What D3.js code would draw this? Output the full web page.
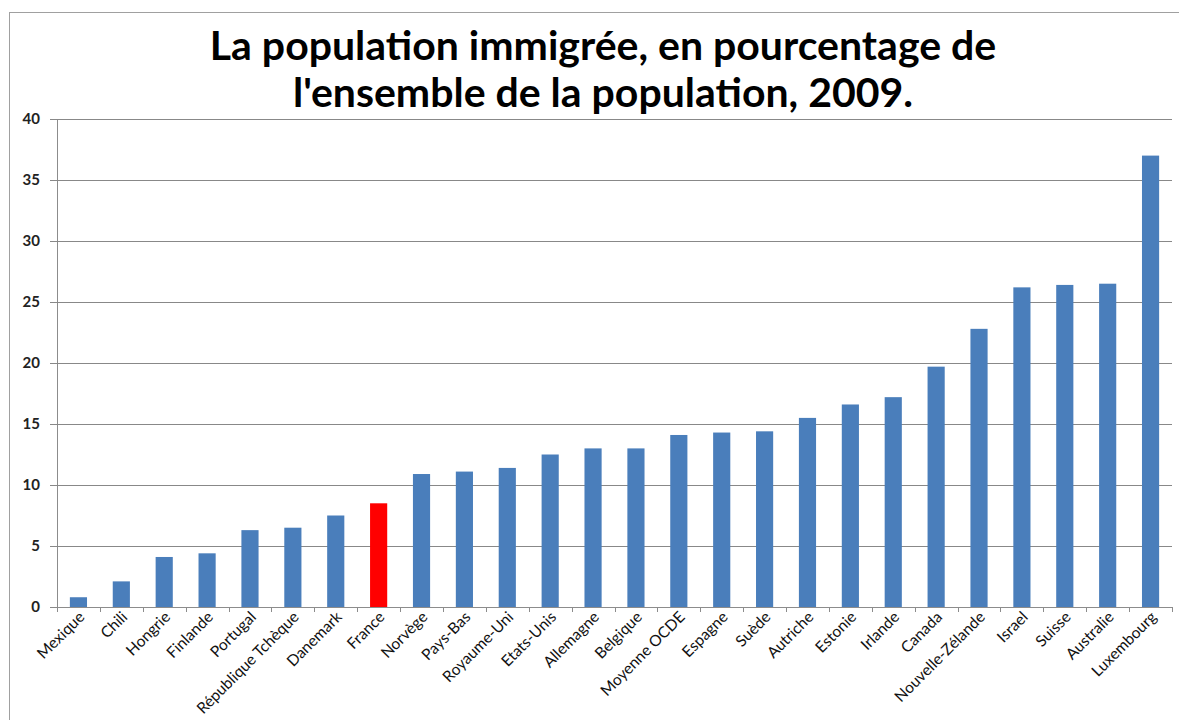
<!doctype html>
<html>
<head>
<meta charset="UTF-8">
<title>La population immigrée, 2009</title>
<script src="https://d3js.org/d3.v7.min.js"></script>
<style>
  body { margin: 0; background: #fff; }
  svg { display: block; }
  .title { font-family: Lato, "Open Sans", sans-serif; font-weight: bold; font-size: 41px; fill: #000; }
  .ylab { font-family: Lato, "Open Sans", sans-serif; font-size: 15px; font-weight: bold; fill: #222; }
  .xlab { font-family: Lato, "Open Sans", sans-serif; font-size: 15.5px; fill: #111; }
</style>
</head>
<body>
<svg id="chart" width="1179" height="720"></svg>
<script>
// categories, in drawing order
var countries = ["Mexique", "Chili", "Hongrie", "Finlande", "Portugal", "République Tchèque",
  "Danemark", "France", "Norvège", "Pays-Bas", "Royaume-Uni", "Etats-Unis", "Allemagne",
  "Belgique", "Moyenne OCDE", "Espagne", "Suède", "Autriche", "Estonie", "Irlande", "Canada",
  "Nouvelle-Zélande", "Israel", "Suisse", "Australie", "Luxembourg"];

// share of immigrants in population, %
var shares = [0.8, 2.1, 4.1, 4.4, 6.3, 6.5, 7.5, 8.5, 10.9, 11.1, 11.4, 12.5, 13.0,
  13.0, 14.1, 14.3, 14.4, 15.5, 16.6, 17.2, 19.7, 22.8, 26.2, 26.4, 26.5, 37.0];

var highlight = "France";
var yTicks = [0, 5, 10, 15, 20, 25, 30, 35, 40];
var titleLines = ["La population immigrée, en pourcentage de", "l'ensemble de la population, 2009."];

(function() {
  var svg = d3.select("#chart");
  var margin = {top: 119, right: 7, bottom: 113, left: 57};
  var W = +svg.attr("width"), H = +svg.attr("height");
  var x0 = margin.left, x1 = W - margin.right, y1 = margin.top, y0 = H - margin.bottom;

  var data = countries.map(function(c, i) { return {name: c, value: shares[i]}; });

  // outer frame
  svg.append("rect")
    .attr("x", 9.5).attr("y", 12.5)
    .attr("width", W + 20).attr("height", H + 20)
    .attr("fill", "none").attr("stroke", "#a0a0a0");

  // title
  svg.selectAll("text.title")
    .data(titleLines)
    .enter().append("text")
    .attr("class", "title")
    .attr("x", 603)
    .attr("y", function(d, i) { return 60 + i * 47; })
    .attr("text-anchor", "middle")
    .text(function(d) { return d; });

  var x = d3.scaleBand().domain(countries).range([x0, x1]).paddingInner(0.6).paddingOuter(0.3);
  var xb = d3.scaleBand().domain(countries).range([x0, x1]); // band edges for tick marks
  var y = d3.scaleLinear().domain([0, 40]).range([y0, y1]);

  // gridlines + y ticks
  var yAxis = svg.append("g")
    .attr("transform", "translate(" + x0 + ",0)")
    .call(d3.axisLeft(y).tickValues(yTicks).tickSize(-(x1 - x0)).tickSizeOuter(0).tickPadding(10));
  yAxis.select(".domain").attr("stroke", "#8c8c8c");
  yAxis.selectAll(".tick line").attr("stroke", "#888").attr("x1", -7);
  yAxis.selectAll(".tick text").attr("class", "ylab").attr("x", -17);
  yAxis.attr("font-family", null).attr("font-size", null);

  // bars
  svg.append("g").selectAll("rect")
    .data(data)
    .enter().append("rect")
    .attr("x", function(d) { return x(d.name); })
    .attr("width", x.bandwidth())
    .attr("y", function(d) { return y(d.value); })
    .attr("height", function(d) { return y(0) - y(d.value); })
    .attr("fill", function(d) { return d.name === highlight ? "#ff0000" : "#4a7ebb"; });

  // x axis line and band-edge ticks
  var xg = svg.append("g");
  xg.append("line")
    .attr("x1", x0).attr("x2", x1)
    .attr("y1", y(0) + 0.5).attr("y2", y(0) + 0.5)
    .attr("stroke", "#8c8c8c");
  var edges = countries.map(function(c) { return xb(c); }).concat([xb.range()[1]]);
  xg.selectAll("line.tk")
    .data(edges)
    .enter().append("line")
    .attr("class", "tk")
    .attr("x1", function(d) { return Math.round(d) + 0.5; })
    .attr("x2", function(d) { return Math.round(d) + 0.5; })
    .attr("y1", y(0)).attr("y2", y(0) + 5)
    .attr("stroke", "#8c8c8c");

  // rotated category labels
  xg.selectAll("text")
    .data(countries)
    .enter().append("text")
    .attr("class", "xlab")
    .attr("text-anchor", "end")
    .attr("transform", function(d) {
      return "translate(" + (x(d) + x.bandwidth() / 2 + 7) + "," + (y(0) + 11) + ") rotate(-45)";
    })
    .text(function(d) { return d; });
})();
</script>
</body>
</html>
